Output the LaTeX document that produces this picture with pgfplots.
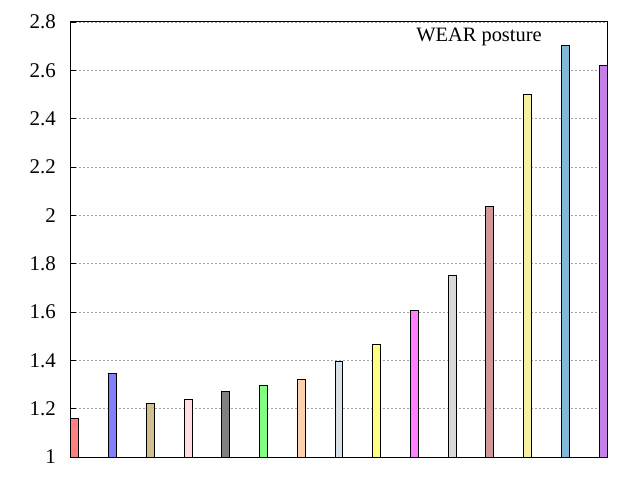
\documentclass[border=0pt]{standalone}
\usepackage{pgfplots}
\pgfplotsset{compat=1.18}
\usepackage{fontspec}
\setmainfont{Liberation Serif}
\definecolor{c1}{HTML}{FF8080}
\definecolor{c2}{HTML}{8080FF}
\definecolor{c3}{HTML}{D0C090}
\definecolor{c4}{HTML}{FFDDE0}
\definecolor{c5}{HTML}{808080}
\definecolor{c6}{HTML}{80FF80}
\definecolor{c7}{HTML}{FFD0B0}
\definecolor{c8}{HTML}{D8E0E8}
\definecolor{c9}{HTML}{FFFF80}
\definecolor{c10}{HTML}{FF80FF}
\definecolor{c11}{HTML}{D8D8D8}
\definecolor{c12}{HTML}{D09898}
\definecolor{c13}{HTML}{F8F0A0}
\definecolor{c14}{HTML}{80B8D8}
\definecolor{c15}{HTML}{C880E8}
\definecolor{gridgray}{HTML}{A0A0A0}
\begin{document}
\begin{tikzpicture}
\path[use as bounding box] (-71bp,-23bp) rectangle (569bp,457bp);
\begin{axis}[
  at={(0,0)}, anchor=south west,
  scale only axis, width=536bp, height=435bp,
  xmin=-0.105, xmax=14.105, ymin=1, ymax=2.8,
  xtick=\empty,
  ytick={1,1.2,1.4,1.6,1.8,2,2.2,2.4,2.6,2.8},
  yticklabels={1,1.2,1.4,1.6,1.8,2,2.2,2.4,2.6,2.8},
  ytick pos=left,
  major tick length=5bp,
  tick style={black, line width=0.8bp},
  axis line style={black, line width=1bp},
  ymajorgrids,
  grid style={gridgray, dash pattern=on 2bp off 2bp, line width=0.8bp},
  yticklabel style={font=\rmfamily\fontsize{21}{24}\selectfont, inner sep=0pt, xshift=-15bp},
  /pgf/number format/assume math mode=true,
  every axis plot/.append style={ybar, bar width=0.21, bar shift=0pt, draw=black, line width=1bp},
]
\addplot[fill=c1] coordinates {(0,1.160)};
\addplot[fill=c2] coordinates {(1,1.344)};
\addplot[fill=c3] coordinates {(2,1.223)};
\addplot[fill=c4] coordinates {(3,1.239)};
\addplot[fill=c5] coordinates {(4,1.272)};
\addplot[fill=c6] coordinates {(5,1.297)};
\addplot[fill=c7] coordinates {(6,1.322)};
\addplot[fill=c8] coordinates {(7,1.397)};
\addplot[fill=c9] coordinates {(8,1.467)};
\addplot[fill=c10] coordinates {(9,1.608)};
\addplot[fill=c11] coordinates {(10,1.749)};
\addplot[fill=c12] coordinates {(11,2.036)};
\addplot[fill=c13] coordinates {(12,2.501)};
\addplot[fill=c14] coordinates {(13,2.703)};
\addplot[fill=c15] coordinates {(14,2.620)};
\node[font=\rmfamily\fontsize{20.5}{24}\selectfont, inner sep=0pt] at (rel axis cs:0.7612,0.966) {WEAR posture};
\end{axis}
\end{tikzpicture}
\end{document}
